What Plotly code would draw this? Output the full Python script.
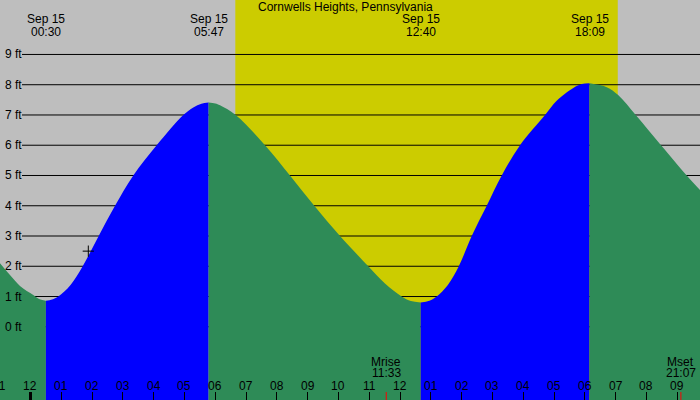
import plotly.graph_objects as go

TITLE = "Cornwells Heights, Pennsylvania"

# tide height (ft) against hours after midnight, Sep 15
TIDE_T = [-0.99, -0.666, -0.341, 0.091, 0.3, 0.5,
          0.7, 0.903, 1.3, 1.695, 2.214, 2.744, 3.338, 4.097, 4.961, 5.286, 5.55, 5.783,
          6.0, 6.153, 6.662, 7.614, 8.425, 9.214, 10.049, 10.968, 11.5, 12.052, 12.35, 12.667,
          12.95, 13.188, 13.55, 13.906, 14.325, 14.812, 15.299, 15.893, 16.705, 17.084, 17.623, 17.9, 18.15,
          18.708, 19.08, 19.65, 20.471, 21.305, 21.737]
TIDE_H = [2.10, 1.71, 1.35, 1.05, 0.91, 0.86,
          0.90, 1.0, 1.38, 2.0, 3.0, 4.0, 5.0, 6.0, 7.0, 7.25, 7.37, 7.41,
          7.38, 7.32, 7.0, 6.0, 5.0, 4.0, 3.0, 2.0, 1.44, 1.0, 0.85, 0.80,
          0.86, 1.0, 1.38, 2.0, 3.0, 4.0, 5.0, 6.0, 7.0, 7.47, 7.89, 8.02, 8.05,
          7.92, 7.66, 7.0, 6.0, 5.0, 4.52]

EVENT_T = [0.5, 5.783, 12.667, 18.15]
EVENT_DATE = ["Sep 15", "Sep 15", "Sep 15", "Sep 15"]
EVENT_TIME = ["00:30", "05:47", "12:40", "18:09"]

SUNRISE = 6.65
SUNSET = 19.067

MOON_T = [11.55, 21.117]
MOON_NAME = ["Mrise", "Mset"]
MOON_TIME = ["11:33", "21:07"]

NOW_T = 1.877
NOW_H = 2.5

HOURS = list(range(-1, 22))
HOUR_LABELS = ["11", "12", "01", "02", "03", "04", "05", "06", "07", "08", "09",
               "10", "11", "12", "01", "02", "03", "04", "05", "06", "07", "08", "09"]

FT_LEVELS = list(range(0, 10))

XMIN, XMAX = -0.99, 21.737
YMIN, YMAX = -2.42, 10.80

GRAY = "#bebebe"
YELLOW = "#cccc00"
GREEN = "#2e8b57"
BLUE = "#0000ff"
FONT = "Liberation Sans, Arial, sans-serif"

fig = go.Figure()

# split curve into rising / falling stretches at the turning points
segs = []
start = 0
for i in range(1, len(TIDE_T) - 1):
    if (TIDE_H[i] - TIDE_H[i - 1]) * (TIDE_H[i + 1] - TIDE_H[i]) < 0:
        segs.append((start, i))
        start = i
segs.append((start, len(TIDE_T) - 1))

for a, b in segs:
    xs = TIDE_T[a:b + 1]
    ys = TIDE_H[a:b + 1]
    col = BLUE if ys[-1] > ys[0] else GREEN
    fig.add_trace(go.Scatter(x=xs, y=[YMIN] * len(xs), mode="lines",
                             line=dict(width=0), hoverinfo="skip", showlegend=False))
    fig.add_trace(go.Scatter(x=xs, y=ys, mode="lines", fill="tonexty",
                             fillcolor=col, line=dict(width=0, shape="spline", color=col),
                             hoverinfo="skip", showlegend=False))

fig.add_trace(go.Scatter(x=[NOW_T], y=[NOW_H], mode="markers",
                         marker=dict(symbol="cross-thin", size=8,
                                     line=dict(width=1, color="black")),
                         hoverinfo="skip", showlegend=False))

shapes = [dict(type="rect", xref="x", yref="paper", x0=SUNRISE, x1=SUNSET, y0=0, y1=1,
               fillcolor=YELLOW, line=dict(width=0), layer="below")]
for lv in FT_LEVELS:
    shapes.append(dict(type="line", xref="paper", yref="y", x0=22 / 700, x1=1, y0=lv, y1=lv,
                       line=dict(color="black", width=1), layer="below"))
shapes.append(dict(type="line", xref="x", yref="paper", x0=0, x1=0, y0=0, y1=8 / 400,
                   line=dict(color="black", width=3)))
for t in MOON_T:
    shapes.append(dict(type="line", xref="x", yref="paper", x0=t, x1=t, y0=0, y1=8 / 400,
                       line=dict(color="red", width=1)))


def xfrac(t):
    return (t - XMIN) / (XMAX - XMIN)


annotations = [dict(text=TITLE, xref="paper", yref="paper", x=0.493, y=1 - 7 / 400,
                    showarrow=False, xanchor="center", yanchor="middle")]
for lv in FT_LEVELS:
    annotations.append(dict(text=f"{lv} ft", xref="paper", yref="y", x=3 / 700, y=lv,
                            showarrow=False, xanchor="left", yanchor="middle"))
for h, lab in zip(HOURS, HOUR_LABELS):
    annotations.append(dict(text=lab, xref="paper", yref="paper", x=xfrac(h), y=1 - 385.7 / 400,
                            showarrow=False, xanchor="center", yanchor="middle"))
for t, d, tm in zip(EVENT_T, EVENT_DATE, EVENT_TIME):
    annotations.append(dict(text=d, xref="x", yref="paper", x=t, y=1 - 19.5 / 400,
                            showarrow=False, xanchor="center", yanchor="middle"))
    annotations.append(dict(text=tm, xref="x", yref="paper", x=t, y=1 - 31.7 / 400,
                            showarrow=False, xanchor="center", yanchor="middle"))
for t, n, tm in zip(MOON_T, MOON_NAME, MOON_TIME):
    annotations.append(dict(text=n, xref="x", yref="paper", x=t, y=1 - 361.7 / 400,
                            showarrow=False, xanchor="center", yanchor="middle"))
    annotations.append(dict(text=tm, xref="x", yref="paper", x=t, y=1 - 373.3 / 400,
                            showarrow=False, xanchor="center", yanchor="middle"))

fig.update_layout(
    width=700, height=400,
    margin=dict(l=0, r=0, t=0, b=0),
    paper_bgcolor=GRAY, plot_bgcolor=GRAY,
    font=dict(family=FONT, size=12, color="black"),
    shapes=shapes, annotations=annotations,
    xaxis=dict(range=[XMIN, XMAX], tickvals=HOURS, ticks="inside", ticklen=8,
               tickwidth=1, tickcolor="black", showticklabels=False,
               showgrid=False, zeroline=False, showline=False, fixedrange=True),
    yaxis=dict(range=[YMIN, YMAX], visible=False, fixedrange=True),
    showlegend=False,
)

fig.write_html("out.html", config={"displayModeBar": False},
               post_script="document.body.style.margin='0';"
                           "document.body.style.overflow='hidden';")
